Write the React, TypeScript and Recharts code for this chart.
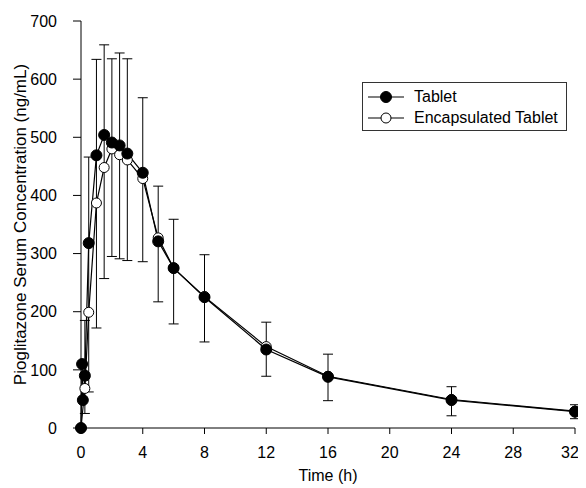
import { ComposedChart, Line, XAxis, YAxis, ErrorBar } from "recharts";

const tabletTime = [0, 0.07, 0.12, 0.25, 0.5, 1, 1.5, 2, 2.5, 3, 4, 5, 6, 8, 12, 16, 24, 32];
const tabletConc = [0, 110, 48, 90, 318, 469, 504, 491, 486, 472, 439, 321, 275, 225, 135, 88, 48, 28];

const encapTime = [0, 0.25, 0.5, 1, 1.5, 2, 2.5, 3, 4, 5, 6, 8, 12, 16, 24, 32];
const encapConc = [0, 68, 199, 387, 448, 480, 470, 461, 429, 327, 275, 226, 140, 89, 49, 29];

const errTime = [0.25, 0.5, 1, 1.5, 2, 2.5, 3, 4, 5, 6, 8, 12, 16, 24, 32];
const errLow = [25, 62, 172, 257, 295, 291, 288, 286, 217, 179, 148, 89, 47, 21, 16];
const errHigh = [185, 466, 634, 659, 635, 645, 635, 568, 416, 359, 298, 182, 127, 71, 40];

const xTicks = [0, 4, 8, 12, 16, 20, 24, 28, 32];
const yTicks = [0, 100, 200, 300, 400, 500, 600, 700];

const tabletData = tabletTime.map((t, i) => ({ t, v: tabletConc[i] }));
const encapData = encapTime.map((t, i) => ({ t, v: encapConc[i] }));
const errData = errTime.map((t, i) => ({ t, lo: errLow[i], err: [0, errHigh[i] - errLow[i]] }));

const font = "'Liberation Sans', Arial, sans-serif";

function LegendBox() {
  const row = (filled: boolean, label: string) => (
    <div style={{ display: "flex", alignItems: "center", height: 21 }}>
      <svg width={46} height={14}>
        <line x1={5} y1={7} x2={41} y2={7} stroke="#000" strokeWidth={1.2} />
        <circle cx={23} cy={7} r={filled ? 5.5 : 5} fill={filled ? "#000" : "#fff"} stroke="#000" strokeWidth={1} />
      </svg>
      <span style={{ marginLeft: 5 }}>{label}</span>
    </div>
  );
  return (
    <div
      style={{
        position: "absolute",
        left: 354,
        top: 74,
        border: "1px solid #333",
        width: 205,
        height: 49,
        padding: "3px 0 0 0",
        boxSizing: "border-box",
        background: "#fff",
        fontFamily: font,
        fontSize: 16,
        color: "#000",
      }}
    >
      {row(true, "Tablet")}
      {row(false, "Encapsulated Tablet")}
    </div>
  );
}

export default function App() {
  return (
    <div style={{ position: "relative", width: 570, height: 480 }}>
      <ComposedChart width={570} height={480} margin={{ top: 13, right: 3, bottom: 0, left: 0 }} style={{ fontFamily: font }}>
        <XAxis
          dataKey="t"
          type="number"
          domain={[0, 32]}
          ticks={xTicks}
          allowDuplicatedCategory={false}
          height={60}
          tickSize={6}
          tickMargin={13}
          stroke="#000"
          tick={{ fill: "#000", fontSize: 16 }}
          label={{ value: "Time (h)", position: "insideBottom", offset: 7, fill: "#000", fontSize: 16 }}
        />
        <YAxis
          type="number"
          domain={[0, 700]}
          ticks={yTicks}
          width={73}
          tickSize={8}
          tickMargin={16}
          stroke="#000"
          tick={{ fill: "#000", fontSize: 16 }}
          label={{
            content: (props: any) => {
              const vb = props.viewBox || { x: 0, y: 13, width: 73, height: 407 };
              const cx = vb.x + 12;
              const cy = vb.y + vb.height / 2;
              return (
                <text
                  x={cx}
                  y={cy}
                  transform={`rotate(-90, ${cx}, ${cy})`}
                  textAnchor="middle"
                  dominantBaseline="central"
                  fill="#000"
                  fontSize={17}
                  fontFamily={font}
                >
                  Pioglitazone Serum Concentration (ng/mL)
                </text>
              );
            },
          }}
        />
        <Line
          data={errData}
          dataKey="lo"
          stroke="none"
          dot={false}
          activeDot={false}
          legendType="none"
          isAnimationActive={false}
        >
          <ErrorBar dataKey="err" width={5} stroke="#000" strokeWidth={1} direction="y" />
        </Line>
        <Line
          data={encapData}
          dataKey="v"
          name="Encapsulated Tablet"
          type="linear"
          stroke="#000"
          strokeWidth={1.2}
          dot={{ r: 5, fill: "#fff", stroke: "#000", strokeWidth: 1 }}
          activeDot={false}
          isAnimationActive={false}
        />
        <Line
          data={tabletData}
          dataKey="v"
          name="Tablet"
          type="linear"
          stroke="#000"
          strokeWidth={1.2}
          dot={{ r: 5.5, fill: "#000", stroke: "#000", strokeWidth: 1 }}
          activeDot={false}
          isAnimationActive={false}
        />
      </ComposedChart>
      <LegendBox />
    </div>
  );
}
